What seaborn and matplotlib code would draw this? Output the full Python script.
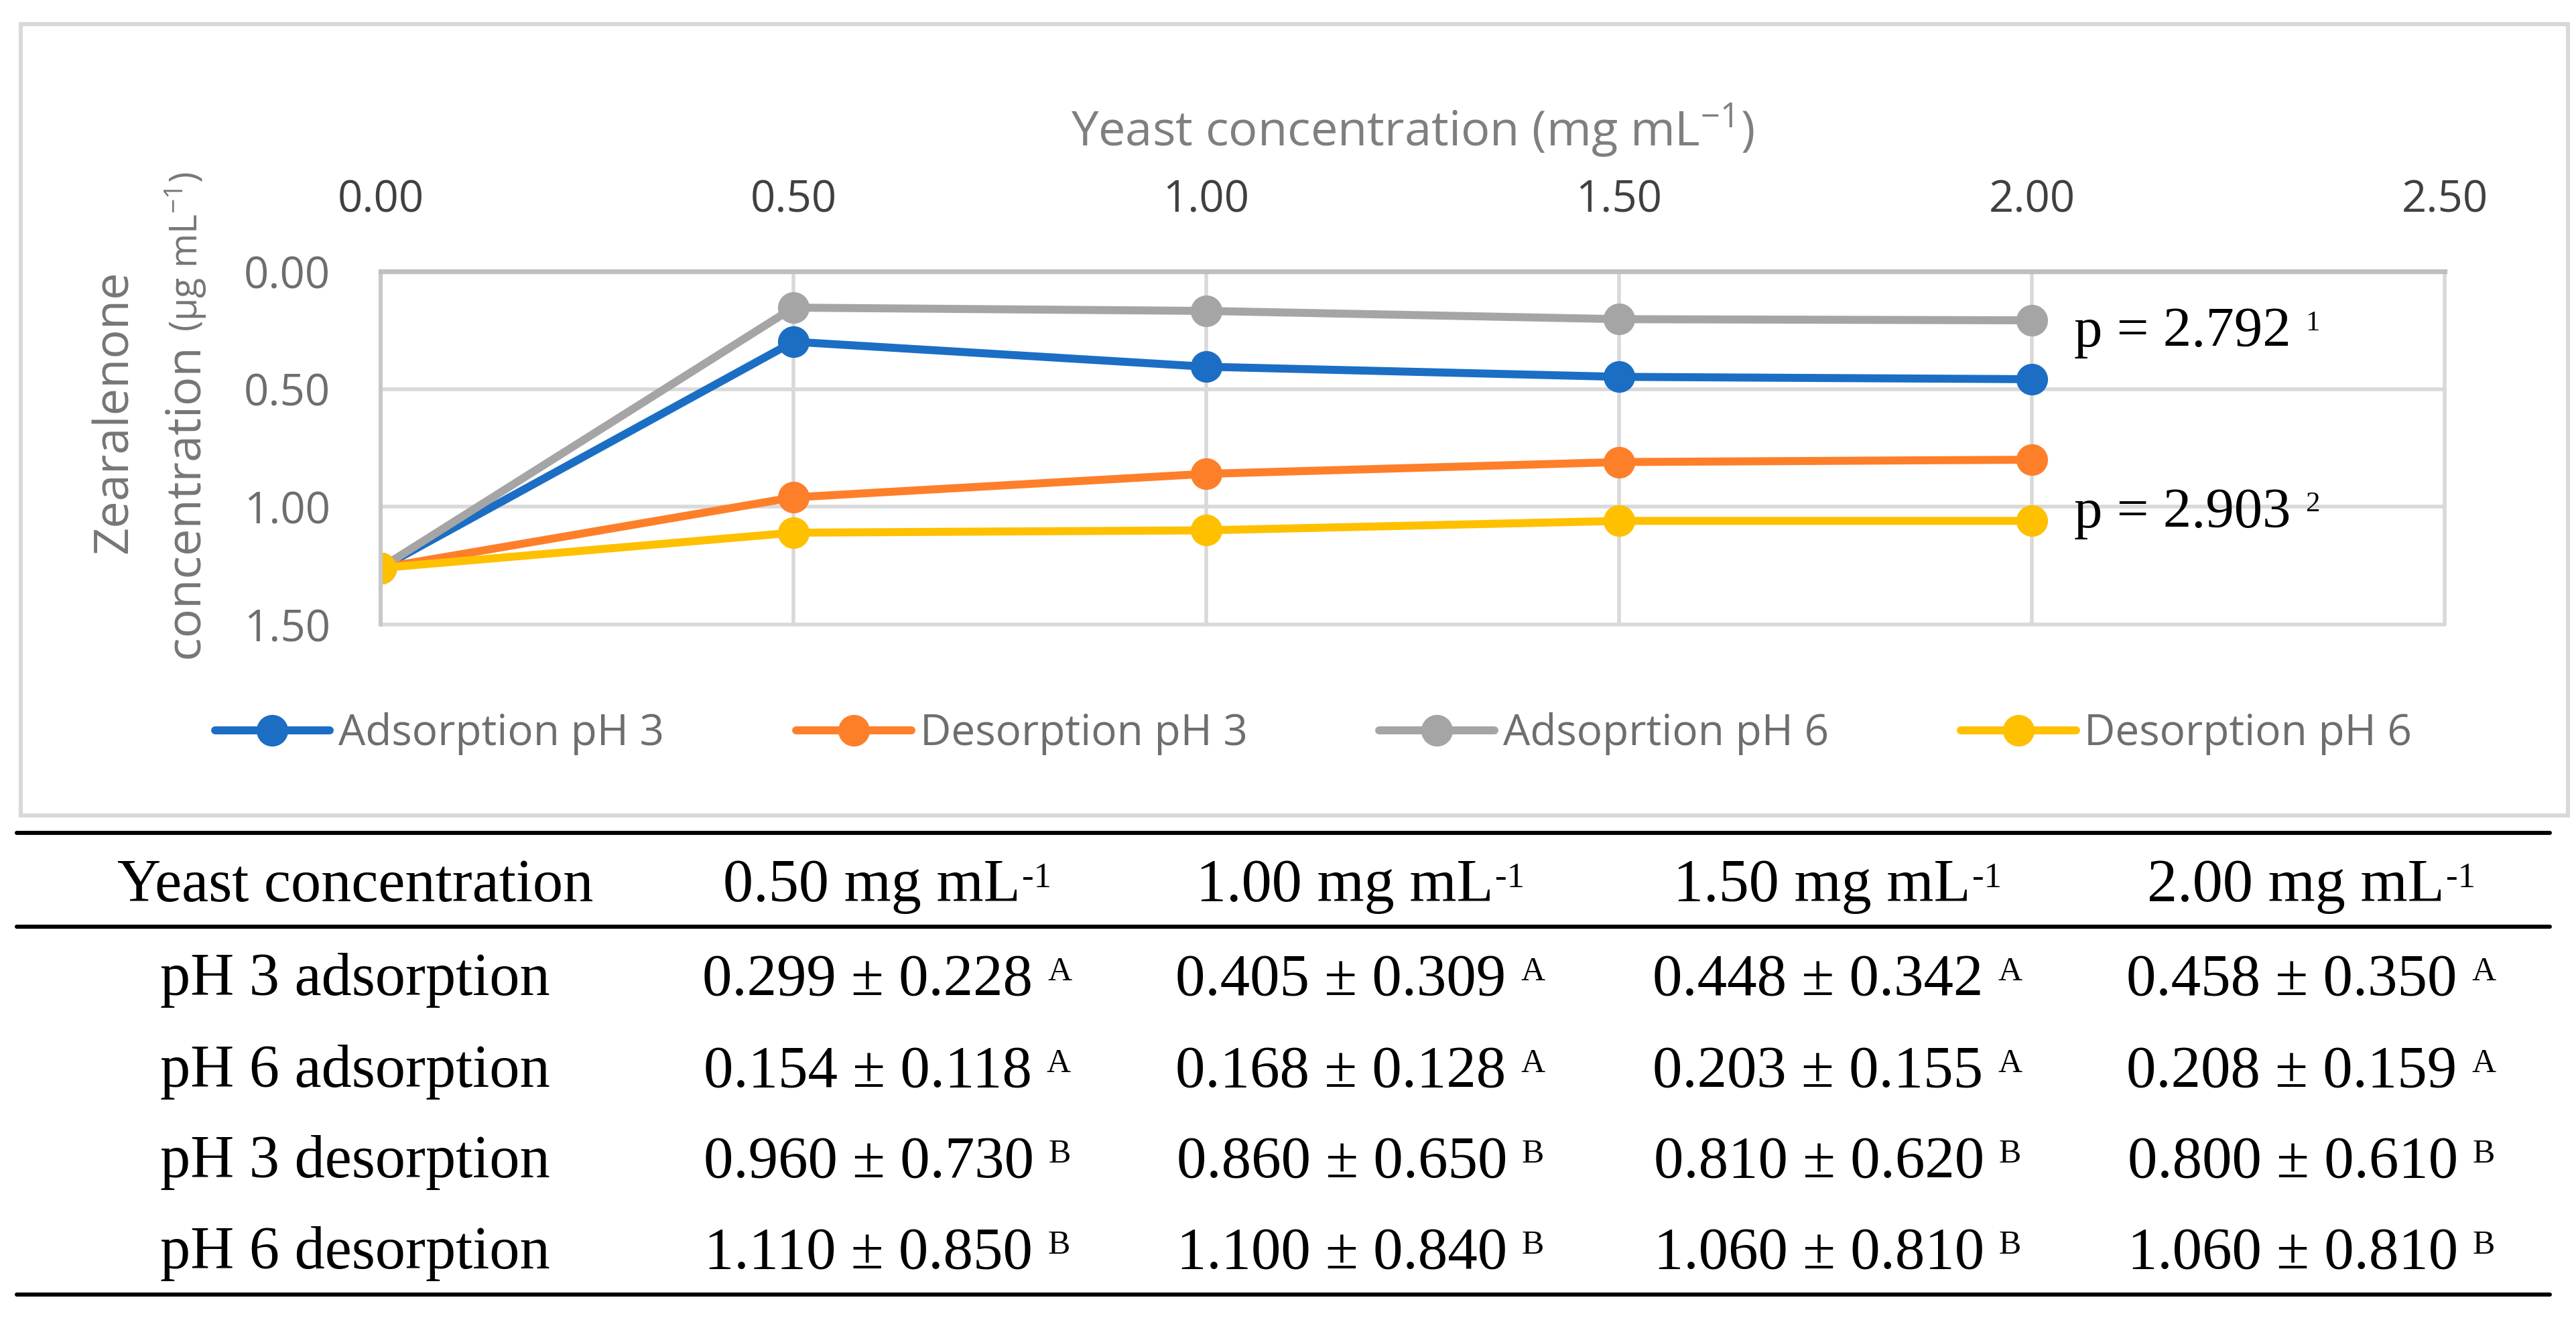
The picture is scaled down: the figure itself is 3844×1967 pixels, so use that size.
import numpy as np
import pandas as pd
import matplotlib
matplotlib.use("Agg")
import matplotlib.pyplot as plt
import seaborn as sns
from matplotlib.patches import Rectangle
from matplotlib.lines import Line2D

# ---------------- data ----------------
yeast_conc = [0.0, 0.5, 1.0, 1.5, 2.0]
initial_zen = 1.26
ads_ph3 = [0.299, 0.405, 0.448, 0.458]
ads_ph3_sd = [0.228, 0.309, 0.342, 0.350]
ads_ph6 = [0.154, 0.168, 0.203, 0.208]
ads_ph6_sd = [0.118, 0.128, 0.155, 0.159]
des_ph3 = [0.960, 0.860, 0.810, 0.800]
des_ph3_sd = [0.730, 0.650, 0.620, 0.610]
des_ph6 = [1.110, 1.100, 1.060, 1.060]
des_ph6_sd = [0.850, 0.840, 0.810, 0.810]

series_names = ["Adsorption pH 3", "Desorption pH 3", "Adsoprtion pH 6", "Desorption pH 6"]
series_colors = ["#1B6EC4", "#FE7F2A", "#A5A5A5", "#FFC000"]

x_ticks = [0.0, 0.5, 1.0, 1.5, 2.0, 2.5]
y_ticks = [0.0, 0.5, 1.0, 1.5]

table_header = ["Yeast concentration", "0.50 mg mL", "1.00 mg mL", "1.50 mg mL", "2.00 mg mL"]
header_sup = "-1"
table_rows = ["pH 3 adsorption", "pH 6 adsorption", "pH 3 desorption", "pH 6 desorption"]
table_means = [ads_ph3, ads_ph6, des_ph3, des_ph6]
table_sds = [ads_ph3_sd, ads_ph6_sd, des_ph3_sd, des_ph6_sd]
table_letters = ["A", "A", "B", "B"]

p_labels = ["p = 2.792", "p = 2.903"]
p_marks = ["1", "2"]

# ---------------- figure ----------------
W, H, DPI = 3844, 1967, 200
sns.set_theme(style="white")
plt.rcParams["font.family"] = ["Open Sans", "DejaVu Sans"]
SERIF = ["Liberation Serif", "DejaVu Serif"]

fig = plt.figure(figsize=(W / DPI, H / DPI), dpi=DPI)
fig.patch.set_facecolor("white")


def fx(x):
    return x / W


def fy(y):
    return 1 - y / H


# chart frame
fig.add_artist(Rectangle((fx(31), fy(1217)), (3832 - 31) / W, (1217 - 36) / H,
                         fill=False, edgecolor="#d9d9d9", linewidth=2.2,
                         transform=fig.transFigure))

ax = fig.add_axes([fx(568), fy(932), (3648 - 568) / W, (932 - 405) / H])

values = [ads_ph3, des_ph3, ads_ph6, des_ph6]
rows = []
for name, vals in zip(series_names, values):
    for xv, yv in zip(yeast_conc, [initial_zen] + list(vals)):
        rows.append({"conc": xv, "zen": yv, "series": name})
df = pd.DataFrame(rows)

sns.lineplot(data=df, x="conc", y="zen", hue="series", hue_order=series_names,
             palette=series_colors, marker="o", markersize=17, markeredgewidth=0,
             linewidth=4.3, sort=False, errorbar=None, legend=False, ax=ax)

ax.set_xlim(0, 2.5)
ax.set_ylim(1.5, 0)
ax.xaxis.tick_top()
ax.set_xticks(x_ticks)
ax.set_xticklabels([f"{v:.2f}" for v in x_ticks])
ax.set_yticks(y_ticks)
ax.set_yticklabels([f"{v:.2f}" for v in y_ticks])
ax.tick_params(axis="x", length=0, pad=26, labelsize=23.5, labelcolor="#404040")
ax.tick_params(axis="y", length=0, pad=27, labelsize=23.5, labelcolor="#6e6e6e")
ax.grid(True, color="#d9d9d9", linewidth=2.0)
for gl in ax.get_xgridlines() + ax.get_ygridlines():
    gl.set_clip_on(False)
for s in ["right", "bottom"]:
    ax.spines[s].set_visible(False)
ax.spines["top"].set_color("#bfbfbf")
ax.spines["top"].set_linewidth(2.6)
ax.spines["left"].set_color("#c8c8c8")
ax.spines["left"].set_linewidth(2.2)

ax.set_ylabel("")
ax.set_xlabel(r"Yeast concentration (mg mL$^{\mathregular{-1}}$)", fontsize=26, color="#7f7f7f")
ax.xaxis.set_label_position("top")
ax.xaxis.label.set_va("center")
ax.xaxis.set_label_coords(0.5, (932 - 195) / 527)

# legend
handles = ax.get_lines()[:4]
fig.legend(handles, series_names, loc="center", bbox_to_anchor=(fx(1960), fy(1095)),
           ncol=4, frameon=False, fontsize=23, handlelength=2.69, handletextpad=0.2,
           columnspacing=3.08, labelcolor="#6e6e6e")

# ---------- text with small superscripts (positioned after measuring) ----------
pending = []


def sup_pair(x_px, base_px, main, sup, size, sup_size, raise_px, gap_px,
             align="center", family=SERIF, color="black"):
    t = fig.text(0, fy(base_px), main, family=family, fontsize=size,
                 ha="left", va="baseline", color=color)
    s = fig.text(0, fy(base_px - raise_px), sup, family=family, fontsize=sup_size,
                 ha="left", va="baseline", color=color)
    pending.append((t, s, x_px, gap_px, align))


# p annotations
for lab, mk, yb in zip(p_labels, p_marks, [517, 787]):
    sup_pair(3095, yb, lab, mk, 30.5, 15.5, 24, 22, align="left")

# y label (two lines)
ycol = "#767676"
fig.text(fx(190), fy(615), "Zearalenone", rotation=90, rotation_mode="anchor",
         ha="center", va="baseline", fontsize=26, color=ycol)
t2 = fig.text(fx(295), fy(982), "concentration", rotation=90, rotation_mode="anchor",
              ha="left", va="baseline", fontsize=26, color=ycol)

# ---------------- table ----------------
for yl in [1243, 1383, 1932]:
    fig.add_artist(Line2D([fx(25), fx(3805)], [fy(yl), fy(yl)], color="black",
                          linewidth=2.2, transform=fig.transFigure))

col_x = [530, 1324, 2030, 2742, 3449]
hdr_base = 1345
fig.text(fx(col_x[0]), fy(hdr_base), table_header[0], family=SERIF, fontsize=32.5,
         ha="center", va="baseline", color="black")
for cx, h in zip(col_x[1:], table_header[1:]):
    sup_pair(cx, hdr_base, h, header_sup, 32.5, 19, 21, 3)

row_base = [1485, 1622, 1757, 1893]
for rb, rname, means, sds, let in zip(row_base, table_rows, table_means, table_sds, table_letters):
    fig.text(fx(col_x[0]), fy(rb), rname, family=SERIF, fontsize=32.5,
             ha="center", va="baseline", color="black")
    for cx, m, s in zip(col_x[1:], means, sds):
        sup_pair(cx, rb, f"{m:.3f} ± {s:.3f}", let, 32, 18, 22, 22)

fig.canvas.draw()
renderer = fig.canvas.get_renderer()
bb = t2.get_window_extent(renderer)
fig.text(fx(295), (bb.y1 + 18) / H, r"(µg mL$^{\mathregular{-1}}$)", rotation=90,
         rotation_mode="anchor", ha="left", va="baseline", fontsize=20, color=ycol)

for t, s, xp, gap, align in pending:
    wt = t.get_window_extent(renderer).width
    ws = s.get_window_extent(renderer).width
    total = wt + gap + ws
    x0 = xp - total / 2 if align == "center" else xp
    t.set_x(fx(x0))
    s.set_x(fx(x0 + wt + gap))

fig.savefig("out.png", dpi=DPI, facecolor="white")
